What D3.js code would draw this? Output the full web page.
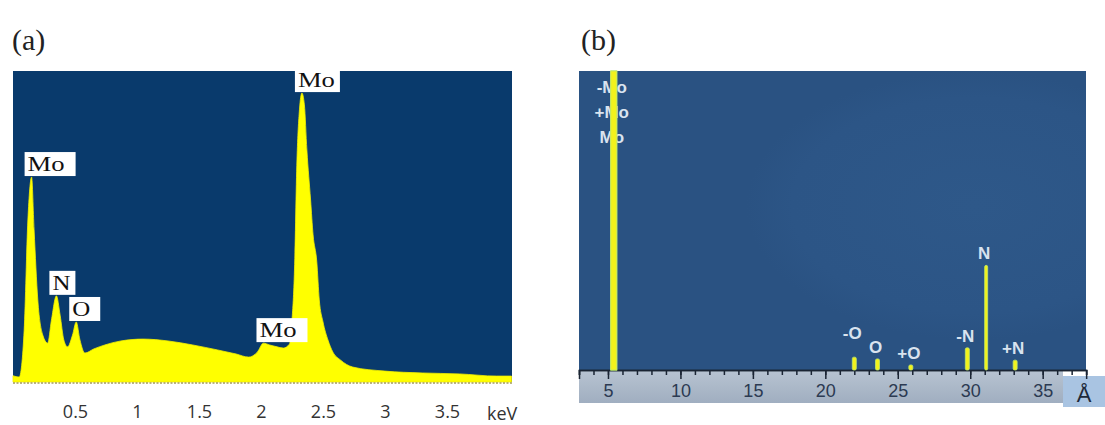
<!DOCTYPE html>
<html>
<head>
<meta charset="utf-8">
<script src="https://cdn.jsdelivr.net/npm/d3@7"></script>
<style>
  body { margin: 0; background: #fff; }
  svg { display: block; }
</style>
</head>
<body>
<svg id="chart" width="1105" height="425"></svg>
<script>
// ---- panel (a) : EDS spectrum ----
const aEnergy = [0.00, 0.05, 0.09, 0.12, 0.15, 0.17, 0.20, 0.24, 0.28, 0.31, 0.35, 0.38, 0.41, 0.44, 0.48, 0.51,
  0.54, 0.58, 0.65, 0.74, 0.87, 1.05, 1.25, 1.45, 1.65, 1.80, 1.90, 1.97, 2.02, 2.07, 2.13, 2.18, 2.23, 2.25,
  2.27, 2.29, 2.31, 2.33, 2.35, 2.37, 2.40, 2.42, 2.45, 2.47, 2.50, 2.54, 2.58, 2.64, 2.74, 3.00, 3.30, 3.60, 3.90, 4.02];
const aCounts = [20, 16, 167, 521, 659, 489, 264, 151, 125, 199, 277, 215, 135, 113, 151, 193,
  135, 93, 106, 119, 132, 138, 132, 119, 103, 90, 80, 96, 125, 119, 113, 109, 122, 199,
  360, 714, 875, 929, 891, 746, 585, 473, 386, 264, 193, 135, 96, 71, 48, 35, 29, 26, 19, 19];
const aLabelNames = ["Mo", "N", "O", "Mo", "Mo"];
const aLabelEnergy = [0.15, 0.35, 0.51, 2.02, 2.33];
const aLabelCounts = [659, 277, 193, 125, 929];
const aTicks = [0.5, 1, 1.5, 2, 2.5, 3, 3.5];
const aUnit = "keV";

// ---- panel (b) : peak positions ----
const bNames = ["-Mo", "+Mo", "Mo", "-O", "O", "+O", "-N", "N", "+N"];
const bPos = [5.4, 5.4, 5.4, 22.0, 23.6, 25.9, 29.8, 31.1, 33.1];
const bHeight = [100, 100, 100, 4.3, 3.7, 1.7, 7.4, 35, 3.3];
const bTicks = [5, 10, 15, 20, 25, 30, 35];
const bUnit = "Å";

const svg = d3.select("#chart");
const defs = svg.append("defs");

// panel titles
svg.append("text").attr("x", 12).attr("y", 50).text("(a)")
  .style("font-family", "'Liberation Serif', serif").style("font-size", "30px").style("fill", "#222");
svg.append("text").attr("x", 581).attr("y", 50).text("(b)")
  .style("font-family", "'Liberation Serif', serif").style("font-size", "30px").style("fill", "#222");

// ================= (a) =================
const aLeft = 13, aRight = 512, aTop = 71, aBottom = 382;
const ax = d3.scaleLinear().domain([0, 4]).range([aLeft, aLeft + 4 * 124]);
const ay = d3.scaleLinear().domain([0, 1000]).range([aBottom, aBottom - 311]);

const ga = svg.append("g");
ga.append("rect").attr("x", aLeft).attr("y", aTop)
  .attr("width", aRight - aLeft).attr("height", aBottom - aTop)
  .style("fill", "#093a6c");

const aData = aEnergy.map((e, i) => ({ e: e, c: aCounts[i] }));
const area = d3.area().x(d => ax(d.e)).y0(ay(0)).y1(d => ay(d.c)).curve(d3.curveMonotoneX);
ga.append("path").datum(aData).attr("d", area)
  .style("fill", "#ffff00").style("stroke", "#f4f000").style("stroke-width", 0.8);

// dotted baseline
ga.append("line").attr("x1", aLeft).attr("x2", aRight).attr("y1", aBottom + 1).attr("y2", aBottom + 1)
  .style("stroke", "#a49a5a").style("stroke-width", 1.5).style("stroke-dasharray", "2,1.5");

// white label boxes
aLabelNames.forEach((name, i) => {
  const px = ax(aLabelEnergy[i]), py = ay(aLabelCounts[i]);
  const g = ga.append("g");
  const t = g.append("text").text(name)
    .attr("x", px - 4).attr("y", py - 6)
    .style("font-family", "'Liberation Serif', serif").style("font-size", "22px").style("fill", "#111");
  const w = name === "Mo" ? 37 : 18;
  t.attr("textLength", w).attr("lengthAdjust", "spacingAndGlyphs");
  g.insert("rect", "text")
    .attr("x", px - 7).attr("y", py - 25)
    .attr("width", w + 8 + (i === 0 ? 6 : 0) + (i === 2 ? 5 : 0) + (i === 3 ? 6 : 0))
    .attr("height", 24)
    .style("fill", "#fff");
});

// x axis labels (no ticks)
const aAxis = d3.axisBottom(ax).tickValues(aTicks).tickSize(0).tickFormat(d3.format("~g"));
const aAxisG = ga.append("g").attr("transform", `translate(0,${aBottom + 20})`).call(aAxis);
aAxisG.select(".domain").remove();
aAxisG.selectAll("text")
  .style("font-family", "'Open Sans', sans-serif").style("font-size", "18px").style("fill", "#333");
ga.append("text").attr("x", 487).attr("y", aBottom + 38).text(aUnit)
  .style("font-family", "'Open Sans', sans-serif").style("font-size", "18px").style("fill", "#333");

// ================= (b) =================
const bLeft = 579, bRight = 1086, bTop = 71, bBottom = 370;
const bx = d3.scaleLinear().domain([3, 38]).range([bLeft, bLeft + 35 * 14.49]);
const by = d3.scaleLinear().domain([0, 100]).range([bBottom, bTop]);

const gb = svg.append("g");
const rg = defs.append("radialGradient").attr("id", "bglow")
  .attr("cx", "0.78").attr("cy", "0.45").attr("r", "0.45");
rg.append("stop").attr("offset", "0").attr("stop-color", "#2e5889");
rg.append("stop").attr("offset", "0.8").attr("stop-color", "#2c5586");
rg.append("stop").attr("offset", "1").attr("stop-color", "#2a5282");
gb.append("rect").attr("x", bLeft).attr("y", bTop)
  .attr("width", bRight - bLeft).attr("height", bBottom - bTop)
  .style("fill", "url(#bglow)");

// axis strip
const sg = defs.append("linearGradient").attr("id", "strip").attr("x1", 0).attr("y1", 0).attr("x2", 0).attr("y2", 1);
sg.append("stop").attr("offset", "0").attr("stop-color", "#b7c3d1");
sg.append("stop").attr("offset", "1").attr("stop-color", "#a0aec0");
gb.append("rect").attr("x", bLeft).attr("y", bBottom + 1)
  .attr("width", 1063 - bLeft).attr("height", 32).style("fill", "url(#strip)");
gb.append("rect").attr("x", 1063).attr("y", bBottom + 6)
  .attr("width", 42).attr("height", 31).style("fill", "#a9c4e2");
gb.append("text").attr("x", 1084).attr("y", bBottom + 32).attr("text-anchor", "middle").text(bUnit)
  .style("font-family", "'Liberation Sans', sans-serif").style("font-size", "22px").style("fill", "#1e2a3a");

// ticks
const minor = d3.range(3, 38.5, 1);
const bAxisMinor = d3.axisBottom(bx).tickValues(minor).tickSize(5).tickFormat("");
const mg = gb.append("g").attr("transform", `translate(0,${bBottom})`).call(bAxisMinor);
const bAxis = d3.axisBottom(bx).tickValues(bTicks).tickSize(9).tickPadding(5);
const tg = gb.append("g").attr("transform", `translate(0,${bBottom})`).call(bAxis);
[mg, tg].forEach(g => {
  g.select(".domain").style("stroke", "#1a2433").style("stroke-width", 1.5);
  g.selectAll("line").style("stroke", "#1a2433").style("stroke-width", 1.5);
});
tg.selectAll("text")
  .style("font-family", "'Liberation Sans', sans-serif").style("font-size", "18px").style("fill", "#2c3a52");

// labels (drawn under the bars)
const lift = { "-O": 12 };
let topRow = 0;
bNames.forEach((name, i) => {
  let yy;
  if (bHeight[i] >= 100) { yy = bTop + 22 + topRow * 25; topRow++; }
  else { yy = by(bHeight[i]) - 6 - (lift[name] || 0); }
  gb.append("text").attr("x", bx(bPos[i]) - 2).attr("y", yy).attr("text-anchor", "middle").text(name)
    .style("font-family", "'Liberation Sans', sans-serif").style("font-size", "17px")
    .style("font-weight", "bold").style("fill", "#d9e3ef");
});

// peaks
bNames.forEach((name, i) => {
  const big = bHeight[i] >= 100;
  const w = big ? 6 : (name === "N" ? 3 : 4);
  gb.append("rect")
    .attr("x", bx(bPos[i]) - w / 2).attr("y", by(Math.min(bHeight[i], 100)))
    .attr("width", w).attr("height", by(0) - by(Math.min(bHeight[i], 100)))
    .attr("rx", big ? 0 : 1.5)
    .style("fill", "#f2f21c").style("stroke", "#bfe86a").style("stroke-width", 0.8);
});
</script>
</body>
</html>
